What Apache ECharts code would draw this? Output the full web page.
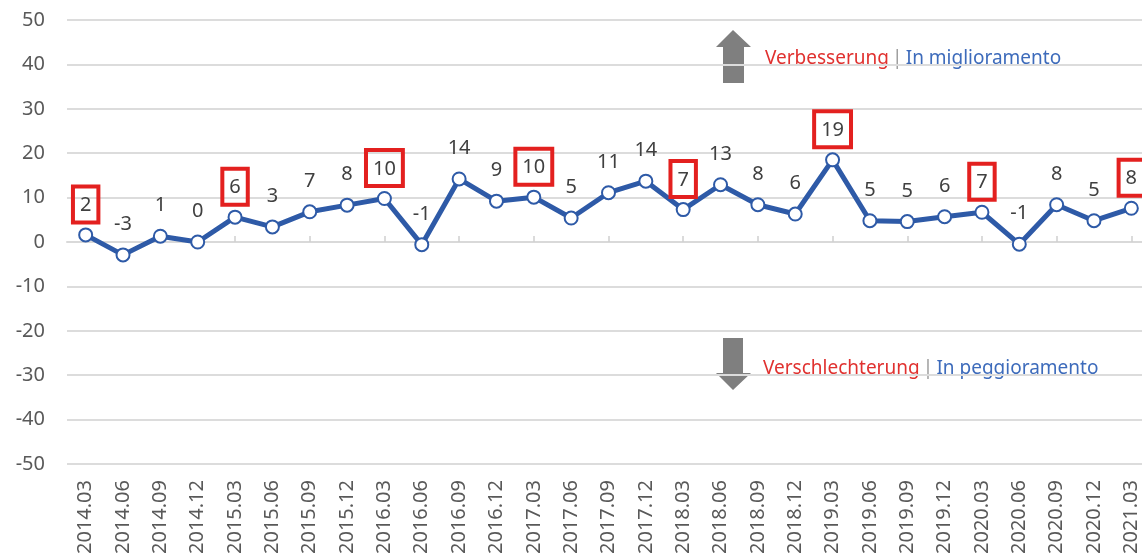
<!DOCTYPE html>
<html>
<head>
<meta charset="utf-8">
<script src="https://cdn.jsdelivr.net/npm/echarts@6/dist/echarts.min.js"></script>
<style>
  html, body { margin: 0; padding: 0; background: #fff; }
  #chart { width: 1142px; height: 557px; }
</style>
</head>
<body>
<div id="chart"></div>
<script>
// quarters on the x axis
var quarters = ['2014.03', '2014.06', '2014.09', '2014.12', '2015.03', '2015.06', '2015.09', '2015.12',
  '2016.03', '2016.06', '2016.09', '2016.12', '2017.03', '2017.06', '2017.09', '2017.12',
  '2018.03', '2018.06', '2018.09', '2018.12', '2019.03', '2019.06', '2019.09', '2019.12',
  '2020.03', '2020.06', '2020.09', '2020.12', '2021.03'];
// plotted values
var values = [1.6, -2.9, 1.3, 0.0, 5.6, 3.4, 6.8, 8.3, 9.8, -0.6, 14.2, 9.2, 10.1, 5.4, 11.1, 13.7,
  7.3, 12.9, 8.4, 6.3, 18.5, 4.8, 4.6, 5.7, 6.7, -0.5, 8.4, 4.8, 7.6];
// printed labels
var labels = [2, -3, 1, 0, 6, 3, 7, 8, 10, -1, 14, 9, 10, 5, 11, 14, 7, 13, 8, 6, 19, 5, 5, 6, 7, -1, 8, 5, 8];
// y ticks
var yMin = -50, yMax = 50, yStep = 10;

var FONT = '"Noto Sans", sans-serif';
var chart = echarts.init(document.getElementById('chart'), null, { renderer: 'canvas' });

var seriesData = values.map(function (v, i) {
  var boxed = quarters[i].slice(5) === '03';
  var item = { value: v };
  if (boxed) {
    item.label = {
      distance: 5,
      padding: [9, 7, 7, 7],
      borderColor: '#e3201f',
      borderWidth: 4
    };
  }
  return item;
});

var annotRich = {
  r: { fill: '#e0312f', fontSize: 19, fontFamily: FONT },
  g: { fill: '#999', fontSize: 19, fontFamily: FONT },
  b: { fill: '#3d6bbb', fontSize: 19, fontFamily: FONT }
};

var option = {
  animation: false,
  grid: { left: 67, right: -8, top: 20, bottom: 93, outerBoundsMode: 'none', containLabel: false },
  xAxis: [{
    // labels along the bottom
    type: 'category',
    data: quarters,
    position: 'bottom',
    axisLine: { onZero: false, show: false },
    axisTick: { show: false },
    axisLabel: {
      rotate: 90,
      margin: 16,
      color: '#595959',
      fontSize: 20,
      fontFamily: FONT
    },
    splitLine: { show: false }
  }, {
    // tick marks on the zero line
    type: 'category',
    data: quarters,
    position: 'top',
    axisLine: { onZero: true, onZeroAxisIndex: 0, lineStyle: { color: '#d9d9d9', width: 2 } },
    axisTick: { show: true, alignWithLabel: true, length: 6, lineStyle: { color: '#cfcfcf', width: 1.5 } },
    axisLabel: { show: false }
  }],
  yAxis: {
    type: 'value',
    min: yMin,
    max: yMax,
    interval: yStep,
    axisLine: { show: false },
    axisTick: { show: false },
    axisLabel: { color: '#595959', fontSize: 20, fontFamily: FONT, margin: 22 },
    splitLine: { lineStyle: { color: '#dcdcdc', width: 2 } }
  },
  series: [{
    type: 'line',
    data: seriesData,
    symbol: 'circle',
    symbolSize: 13,
    itemStyle: { color: '#fff', borderColor: '#2e5aa7', borderWidth: 2 },
    lineStyle: { color: '#2e5aa7', width: 5 },
    label: {
      show: true,
      position: 'top',
      distance: 13,
      color: '#404040',
      fontSize: 20,
      fontFamily: FONT,
      formatter: function (p) { return labels[p.dataIndex]; }
    },
    z: 5
  }],
  graphic: [
    // up arrow
    {
      type: 'polygon',
      shape: { points: [[733, 30], [751, 47], [744, 47], [744, 83], [723, 83], [723, 47], [716, 47]] },
      style: { fill: '#7f7f7f' }
    },
    {
      type: 'text',
      left: 765,
      top: 49,
      style: {
        text: '{r|Verbesserung}{g|\u2009|\u2009}{b|In miglioramento}',
        font: '19px ' + FONT,
        rich: annotRich
      }
    },
    // down arrow
    {
      type: 'polygon',
      shape: { points: [[723, 338], [743, 338], [743, 373], [751, 373], [733, 390], [716, 373], [723, 373]] },
      style: { fill: '#7f7f7f' }
    },
    {
      type: 'text',
      left: 763,
      top: 359,
      style: {
        text: '{r|Verschlechterung}{g|\u2009|\u2009}{b|In peggioramento}',
        font: '19px ' + FONT,
        rich: annotRich
      }
    }
  ]
};

chart.setOption(option);
</script>
</body>
</html>
